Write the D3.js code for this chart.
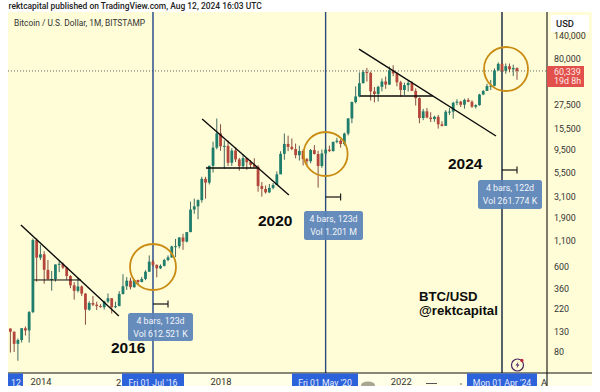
<!DOCTYPE html>
<html><head><meta charset="utf-8">
<script src="https://cdn.jsdelivr.net/npm/d3@7/dist/d3.min.js"></script>
<style>html,body{margin:0;padding:0;background:#fff}svg{display:block}text{font-family:Roboto,"Liberation Sans",sans-serif}</style>
</head><body><svg id="c" width="600" height="392"></svg>
<script>
const firstMonth = "2013-05";
const opens = [139,129,97,106,140,133,205,1120,
 740,800,555,445,447,630,640,585,480,385,338,375,
 317,217,254,244,236,230,263,284,230,236,314,377,
 430,369,437,416,448,531,673,624,575,610,700,745,
 965,970,1190,1080,1350,2300,2480,2870,4740,4340,6450,9900,
 13860,10220,10320,6930,9240,7500,6390,7730,7010,6600,6300,4000,
 3740,3450,3830,4100,5270,8550,10800,10090,9580,8290,9150,7550,
 7190,9350,8520,6420,8630,9450,9140,11340,11650,10780,13800,19700,
 28990,33100,45200,58800,57700,37300,35040,41500,47100,43800,61300,57000,
 46200,38500,43200,45500,37700,31800,19900,23300,20100,19400,20500,17150,
 16540,23100,23150,28500,29250,27200,30480,29200,25950,26960,34650,37720,
 42260,42580,61200,71300,60650,67500,62700,64600];
const closes = [129,97,106,140,133,205,1120,740,
 800,555,445,447,630,640,585,480,385,338,375,317,
 217,254,244,236,230,263,284,230,236,314,377,430,
 369,437,416,448,531,673,624,575,610,700,745,965,
 970,1190,1080,1350,2300,2480,2870,4740,4340,6450,9900,13860,
 10220,10320,6930,9240,7500,6390,7730,7010,6600,6300,4000,3740,
 3450,3830,4100,5270,8550,10800,10090,9580,8290,9150,7550,7190,
 9350,8520,6420,8630,9450,9140,11340,11650,10780,13800,19700,28990,
 33100,45200,58800,57700,37300,35040,41500,47100,43800,61300,57000,46200,
 38500,43200,45500,37700,31800,19900,23300,20100,19400,20500,17150,16540,
 23100,23150,28500,29250,27200,30480,29200,25950,26960,34650,37720,42260,
 42580,61200,71300,60650,67500,62700,64600,60339];
const highs = [140,130,110,141,146,210,1163,1163,
 1000,860,700,540,630,680,660,600,490,415,460,385,
 320,265,300,262,247,268,318,285,262,335,500,468,
 462,448,440,470,550,780,700,630,630,720,780,980,
 1150,1200,1300,1350,2770,2980,2920,4980,4980,6470,11400,19666,
 17170,11780,11680,9750,10020,7770,8480,7750,7400,7700,6550,4400,
 4060,4200,4300,5650,9100,13800,13150,12300,10900,10350,9500,7750,
 9580,10500,9190,9460,10080,10380,11420,12480,12070,14100,19850,29300,
 41950,58350,61780,64860,59500,41300,42600,50500,52900,67000,69000,59100,
 47900,45800,48200,47400,40000,32300,24700,25200,22800,21000,21400,18400,
 23900,25200,29200,31000,29800,31400,31800,30200,27500,35200,38400,44700,
 48900,64000,73800,72700,71900,71900,70000,65500];
const lows = [79,80,65,100,118,100,200,420,
 700,400,440,340,420,525,565,440,360,275,325,300,
 152,212,236,215,228,218,253,198,225,236,310,345,
 350,363,390,415,435,530,600,465,565,600,680,735,
 750,920,890,1060,1350,2080,1830,2700,2970,4150,5500,9500,
 9200,6000,6430,6430,7050,5750,6070,5880,6100,6200,3500,3120,
 3350,3390,3700,4100,5350,7450,9100,9320,7700,7300,6500,6430,
 6850,8420,3850,6150,8120,8900,8990,10970,9880,10380,13200,17600,
 28100,32400,45000,47000,30000,28800,29300,37300,39600,43300,53300,42000,
 32900,34300,37200,37600,26700,17600,18900,19800,18100,18200,15500,16300,
 16500,21400,19600,26900,25800,24800,28900,25300,24900,26600,34100,37600,
 38500,41900,60800,59100,56500,58400,53500,49000];
const priceTicks = [140000,80000,27500,15500,9500,5500,3100,1900,1100,600,360,220,130,80];
const yearTicks = ["2014-01","2018-01","2022-01"];
const yearLabels = ["2014","2018","2022"];
const measured = [
 {start:"2016-07",end:"2016-11",days:"4 bars, 123d",vol:"Vol 612.521 K",label:"Fri 01 Jul '16"},
 {start:"2020-05",end:"2020-09",days:"4 bars, 123d",vol:"Vol 1.201 M",label:"Fri 01 May '20"},
 {start:"2024-04",end:"2024-08",days:"4 bars, 122d",vol:"Vol 261.774 K",label:"Mon 01 Apr '24"}];
const trendBars = [[2.8,28.9],[51.1,74.2],[92.9,129.4]];
const trendPrices = [[1598,187],[19450,3243],[101100,13030]];
const baseBars = [[6.3,18.8],[52.1,66],[93.2,112.6]];
const basePrices = [437,6124,33440];
const lastPrice = 60339;

const mi = s => { const [a,b]=s.split("-").map(Number); const [a0,b0]=firstMonth.split("-").map(Number); return (a-a0)*12+b-b0; };
const L={l:8,r:547,t:12,b:373,R:592,B:386};
const x=d3.scaleLinear().domain([mi("2016-07"),mi("2024-04")]).range([153,502]);
const y=d3.scaleLog().domain([80000,80]).range([59,352]);
const svg=d3.select("#c");
const defs=svg.append("defs");
defs.append("clipPath").attr("id","clip").append("rect").attr("x",0).attr("y",0).attr("width",600).attr("height",L.B);
defs.append("clipPath").attr("id","plotx").append("rect").attr("x",L.l).attr("y",L.b).attr("width",L.r-L.l).attr("height",L.B-L.b);
const bg=svg.append("g");
bg.append("rect").attr("x",L.l).attr("y",L.t).attr("width",L.R-L.l).attr("height",L.B-L.t).attr("fill","#fffdd8");
bg.append("rect").attr("x",L.l).attr("y",L.b).attr("width",L.R-L.l).attr("height",L.B-L.b).attr("fill","#fffee6");

// header
svg.append("text").attr("x",8.5).attr("y",8.5).attr("font-size",8.45).attr("font-weight",500).attr("fill","#222").text("rektcapital published on TradingView.com, Aug 12, 2024 16:03 UTC");
svg.append("text").attr("x",14).attr("y",26).attr("font-size",8.4).attr("fill","#333").text("Bitcoin / U.S. Dollar, 1M, BITSTAMP");

// last price line
svg.append("line").attr("x1",L.l).attr("x2",L.r).attr("y1",y(lastPrice)).attr("y2",y(lastPrice)).attr("stroke","#555").attr("stroke-width",.9).attr("stroke-dasharray","1 2");

// vertical lines
const vcol=["#1d4488","#2b4a7d","#0f2038"];
measured.forEach((m,i)=>svg.append("line").attr("x1",x(mi(m.start))).attr("x2",x(mi(m.start))).attr("y1",L.t).attr("y2",L.b).attr("stroke",vcol[i]).attr("stroke-width",1.4));

// candles
const G="#1f7d6c",R="#b5463b";
const data=opens.map((o,i)=>({i,o,c:closes[i],h:highs[i],l:lows[i]}));
const cg=svg.append("g").selectAll("g").data(data).join("g");
cg.append("line").attr("x1",d=>x(d.i)).attr("x2",d=>x(d.i)).attr("y1",d=>y(d.h)).attr("y2",d=>y(d.l)).attr("stroke",d=>d.c>=d.o?"#2c5a52":"#7a3a33").attr("stroke-width",.9);
cg.append("rect").attr("x",d=>x(d.i)-1.4).attr("width",2.8).attr("y",d=>Math.min(y(d.o),y(d.c))).attr("height",d=>Math.max(1,Math.abs(y(d.o)-y(d.c)))).attr("fill",d=>d.c>=d.o?G:R);

// trend & base lines
trendBars.forEach((t,i)=>svg.append("line").attr("x1",x(t[0])).attr("y1",y(trendPrices[i][0])).attr("x2",x(t[1])).attr("y2",y(trendPrices[i][1])).attr("stroke","#0a0a0a").attr("stroke-width",1.4));
baseBars.forEach((t,i)=>svg.append("line").attr("x1",x(t[0])).attr("x2",x(t[1])).attr("y1",y(basePrices[i])).attr("y2",y(basePrices[i])).attr("stroke","#0a0a0a").attr("stroke-width",i==0?1:1.6));

// circles, measures, tooltips
const boxes=[{x:128,y:313,w:65,h:28},{x:304,y:211,w:59,h:29},{x:478,y:180,w:64,h:29}];
const measY=[304,197,170];
const circ=[{dy:267,r:23},{dy:154,r:22},{dy:69,r:22}];
measured.forEach((m,i)=>{
 const cx=x(mi(m.start))+(i==2?4:0);
 svg.append("circle").attr("cx",cx).attr("cy",circ[i].dy).attr("r",circ[i].r).attr("fill","none").attr("stroke","#c98c12").attr("stroke-width",1.8);
 const x0=x(mi(m.start)),x1=x(mi(m.end));
 svg.append("line").attr("x1",x0).attr("x2",x1).attr("y1",measY[i]).attr("y2",measY[i]).attr("stroke","#111").attr("stroke-width",1.2);
 svg.append("line").attr("x1",x1).attr("x2",x1).attr("y1",measY[i]-3.5).attr("y2",measY[i]+3.5).attr("stroke","#111").attr("stroke-width",1.1);
 const b=boxes[i];
 svg.append("rect").attr("x",b.x).attr("y",b.y).attr("width",b.w).attr("height",b.h).attr("rx",2.5).attr("fill","#5a83b8").attr("fill-opacity",.93);
 svg.append("text").attr("x",b.x+b.w/2).attr("y",b.y+10.5).attr("text-anchor","middle").attr("font-size",8.8).attr("fill","#f2f5fa").text(m.days);
 svg.append("text").attr("x",b.x+b.w/2).attr("y",b.y+24).attr("text-anchor","middle").attr("font-size",8.8).attr("fill","#f2f5fa").text(m.vol);
});

// big labels
const big=(t,px,py,fs)=>svg.append("text").attr("x",px).attr("y",py).attr("font-size",fs).attr("font-weight",700).attr("fill","#0c0c0c").style("font-family","Liberation Sans").text(t);
big("2016",111,353,15.5);big("2020",258,226,15.5);big("2024",448,169,15.5);
big("BTC/USD",419,301,13.2);big("@rektcapital",419,315,13.2);

// lightning icon
const ic=svg.append("g").attr("transform","translate(517.5,365)");
ic.append("circle").attr("r",6).attr("fill","#fffdd8").attr("stroke","#4a2563").attr("stroke-width",1.2);
ic.append("path").attr("d","M1,-3.5L-2,0.5H0L-1,3.5L2,-0.5H0Z").attr("fill","#4a2563");
ic.append("circle").attr("cx",4.4).attr("cy",-4.6).attr("r",1.6).attr("fill","#c0263a");

// x axis
const xg=svg.append("g").attr("clip-path","url(#plotx)").append("g").attr("transform",`translate(0,${L.b})`)
 .call(d3.axisBottom(x).tickValues(yearTicks.map(mi)).tickSize(0).tickPadding(5).tickFormat((d,i)=>yearLabels[i]));
xg.select(".domain").remove();
xg.selectAll("text").attr("font-size",9.4).attr("fill","#333").style("font-family","Roboto");
const cutoff=svg.append("g").attr("clip-path","url(#plotx)");
cutoff.append("text").attr("x",116).attr("y",L.b+13).attr("font-size",9.4).attr("fill","#333").text("2");
cutoff.append("text").attr("x",541).attr("y",L.b+13).attr("font-size",9.4).attr("fill","#333").text("A");
svg.append("line").attr("x1",L.l).attr("x2",L.R).attr("y1",L.b).attr("y2",L.b).attr("stroke","#111").attr("stroke-width",1);

// x labels on blue
const tags=[{x:8,w:15,t:"12",tx:11},{x:122,w:62,t:measured[0].label},{x:292,w:66,t:measured[1].label},{x:467,w:70,t:measured[2].label}];
const cl=svg.append("g").attr("clip-path","url(#clip)");
tags.forEach(t=>{
 cl.append("rect").attr("x",t.x).attr("y",L.b+.5).attr("width",t.w).attr("height",L.B-L.b).attr("fill","#2c62da");
 cl.append("text").attr("x",t.tx||t.x+t.w/2).attr("y",L.b+13).attr("text-anchor",t.tx?"start":"middle").attr("font-size",8.7).attr("fill","#e9eefb").text(t.t);
});
cl.append("ellipse").attr("cx",368).attr("cy",385).attr("rx",7).attr("ry",3.5).attr("fill","#a9a793");
cl.append("line").attr("x1",426).attr("x2",437).attr("y1",383.5).attr("y2",383.5).attr("stroke","#555");
cl.append("circle").attr("cx",461).attr("cy",384).attr("r",.8).attr("fill","#555");

// y axis
const yg=svg.append("g").attr("transform",`translate(${L.r},0)`)
 .call(d3.axisRight(y).tickValues(priceTicks).tickSize(0).tickPadding(7).tickFormat(d3.format(",")));
yg.select(".domain").remove();
yg.selectAll("text").attr("font-size",8.9).attr("fill","#333").style("font-family","Roboto");
svg.append("line").attr("x1",L.r).attr("x2",L.r).attr("y1",L.t).attr("y2",L.B).attr("stroke","#111").attr("stroke-width",1.1);

// USD box, price tag
svg.append("rect").attr("x",551).attr("y",15).attr("width",38).attr("height",17).attr("fill","#fff");
svg.append("text").attr("x",556).attr("y",26.5).attr("font-size",9.4).attr("font-weight",500).attr("fill","#222").text("USD");
svg.append("rect").attr("x",L.r).attr("y",66).attr("width",37).attr("height",21).attr("fill","#e2504b");
svg.append("text").attr("x",554).attr("y",74.5).attr("font-size",8.9).attr("fill","#fbe9e6").text(d3.format(",")(lastPrice));
svg.append("text").attr("x",554).attr("y",84).attr("font-size",8.9).attr("fill","#fbe9e6").text("19d 8h");
</script></body></html>
